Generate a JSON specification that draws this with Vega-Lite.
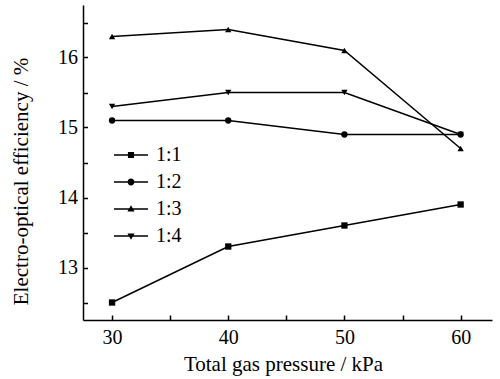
{
  "$schema": "https://vega.github.io/schema/vega-lite/v6.json",
  "autosize": "none",
  "width": 409,
  "height": 315,
  "padding": {"left": 83, "top": 5, "right": 8, "bottom": 59},
  "background": "white",
  "config": {
    "view": {"stroke": null},
    "font": "Times New Roman, Liberation Serif, serif",
    "axis": {
      "domainColor": "black", "domainWidth": 1.5, "tickColor": "black", "tickWidth": 1.5,
      "grid": false, "labelColor": "black", "titleColor": "black",
      "labelFont": "Times New Roman, Liberation Serif, serif", "titleFont": "Times New Roman, Liberation Serif, serif",
      "labelFontSize": 20, "titleFontSize": 21, "titleFontWeight": "normal"
    }
  },
  "data": {
    "values": [
      {"series": "1:1", "pressure": 30, "eff": 12.5},
      {"series": "1:1", "pressure": 40, "eff": 13.3},
      {"series": "1:1", "pressure": 50, "eff": 13.6},
      {"series": "1:1", "pressure": 60, "eff": 13.9},
      {"series": "1:3", "pressure": 30, "eff": 16.3},
      {"series": "1:3", "pressure": 40, "eff": 16.4},
      {"series": "1:3", "pressure": 50, "eff": 16.1},
      {"series": "1:3", "pressure": 60, "eff": 14.7},
      {"series": "1:4", "pressure": 30, "eff": 15.3},
      {"series": "1:4", "pressure": 40, "eff": 15.5},
      {"series": "1:4", "pressure": 50, "eff": 15.5},
      {"series": "1:4", "pressure": 60, "eff": 14.9},
      {"series": "1:2", "pressure": 30, "eff": 15.1},
      {"series": "1:2", "pressure": 40, "eff": 15.1},
      {"series": "1:2", "pressure": 50, "eff": 14.9},
      {"series": "1:2", "pressure": 60, "eff": 14.9}
    ]
  },
  "encoding": {
    "x": {
      "field": "pressure", "type": "quantitative",
      "scale": {"domain": [27.5, 62.7], "nice": false, "zero": false},
      "axis": {
        "title": "Total gas pressure / kPa",
        "values": [30, 35, 40, 45, 50, 55, 60],
        "labelExpr": "datum.value % 10 === 0 ? format(datum.value, 'd') : ''",
        "tickSize": -5,
        "labelPadding": 12, "titlePadding": 6, "titleX": 200
      }
    },
    "y": {
      "field": "eff", "type": "quantitative",
      "scale": {"domain": [12.25, 16.75], "nice": false, "zero": false},
      "axis": {
        "title": "Electro-optical efficiency / %",
        "values": [12.5, 13, 13.5, 14, 14.5, 15, 15.5, 16, 16.5],
        "labelExpr": "datum.value % 1 === 0 ? format(datum.value, 'd') : ''",
        "tickSize": -4.5,
        "labelPadding": 10, "titlePadding": 26, "titleY": 176
      }
    }
  },
  "layer": [
    {
      "mark": {"type": "line", "color": "black", "strokeWidth": 1.5},
      "encoding": {"detail": {"field": "series"}}
    },
    {
      "mark": {"type": "point", "filled": true, "color": "black", "opacity": 1, "size": 40},
      "encoding": {
        "shape": {
          "field": "series", "type": "nominal",
          "scale": {"domain": ["1:1", "1:2", "1:3", "1:4"], "range": ["square", "circle", "triangle-up", "triangle-down"]},
          "legend": null
        }
      }
    },
    {
      "mark": {"type": "point", "filled": true, "color": "black", "opacity": 0, "size": 1},
      "encoding": {
        "shape": {
          "field": "series", "type": "nominal",
          "scale": {"domain": ["1:1", "1:2", "1:3", "1:4"], "range": [
            "M-1,-0.045H1V0.045H-1ZM-0.18,-0.18H0.18V0.18H-0.18Z",
            "M-1,-0.045H1V0.045H-1ZM-0.2,0A0.2,0.2,0,1,1,0.2,0A0.2,0.2,0,1,1,-0.2,0Z",
            "M-1,-0.045H1V0.045H-1ZM0,-0.22L0.21,0.15H-0.21Z",
            "M-1,-0.045H1V0.045H-1ZM0,0.22L-0.21,-0.15H0.21Z"
          ]},
          "legend": {
            "title": null, "orient": "none", "legendX": 31, "legendY": 133,
            "symbolSize": 1156, "symbolOpacity": 1, "symbolFillColor": "black", "symbolStrokeWidth": 0,
            "labelFont": "Times New Roman, Liberation Serif, serif", "labelFontSize": 20, "labelColor": "black",
            "labelOffset": 8, "rowPadding": -12, "padding": 0
          }
        }
      }
    }
  ],
  "resolve": {"scale": {"shape": "independent"}}
}
